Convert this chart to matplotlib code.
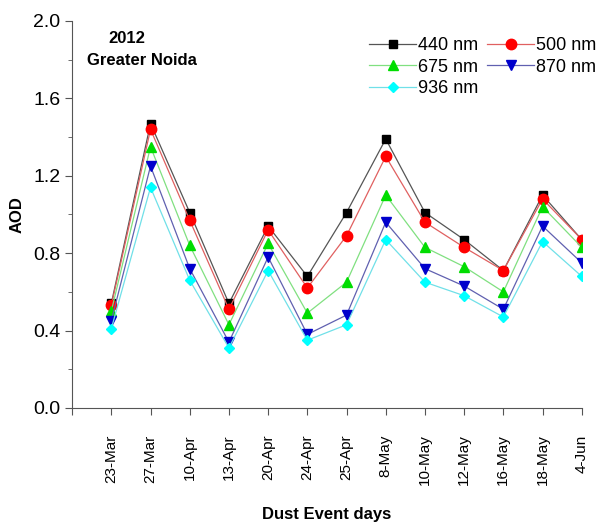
import matplotlib
matplotlib.use("Agg")
import matplotlib.pyplot as plt
from matplotlib.ticker import MultipleLocator, FixedLocator, FormatStrFormatter

plt.rcParams['font.family'] = ['Liberation Sans', 'DejaVu Sans']

dates = ["23-Mar", "27-Mar", "10-Apr", "13-Apr", "20-Apr", "24-Apr", "25-Apr",
         "8-May", "10-May", "12-May", "16-May", "18-May", "4-Jun"]
aod_440 = [0.54, 1.47, 1.01, 0.54, 0.94, 0.68, 1.01, 1.39, 1.01, 0.87, 0.71, 1.10, 0.87]
aod_500 = [0.53, 1.44, 0.97, 0.51, 0.92, 0.62, 0.89, 1.30, 0.96, 0.83, 0.71, 1.08, 0.87]
aod_675 = [0.50, 1.35, 0.84, 0.43, 0.85, 0.49, 0.65, 1.10, 0.83, 0.73, 0.60, 1.04, 0.83]
aod_870 = [0.45, 1.25, 0.72, 0.34, 0.78, 0.38, 0.48, 0.96, 0.72, 0.63, 0.51, 0.94, 0.75]
aod_936 = [0.41, 1.14, 0.66, 0.31, 0.71, 0.35, 0.43, 0.87, 0.65, 0.58, 0.47, 0.86, 0.68]

series = [
    ("440 nm", aod_440, "s", "black", "#555555", 6),
    ("500 nm", aod_500, "o", "red", "#e06060", 7.5),
    ("675 nm", aod_675, "^", "#00dd00", "#80e080", 7),
    ("870 nm", aod_870, "v", "#0000cc", "#6060b0", 7),
    ("936 nm", aod_936, "D", "cyan", "#70e0e8", 5.5),
]

fig = plt.figure(figsize=(6.06, 5.25), dpi=100)
ax = fig.add_axes([0.119, 0.223, 0.841, 0.737])

x = list(range(len(dates)))
handles = {}
for name, vals, mk, mc, lc, ms in series:
    h, = ax.plot(x, vals, color=lc, lw=0.9, marker=mk, markersize=ms,
                 markerfacecolor=mc, markeredgecolor=mc, label=name)
    handles[name] = h

ax.set_xlim(-1, 12)
ax.set_ylim(0, 2.0)
ax.xaxis.set_major_locator(FixedLocator(list(range(-1, 13))))
ax.set_xticklabels([""] + dates, rotation=90, fontsize=11)
ax.yaxis.set_major_locator(MultipleLocator(0.4))
ax.yaxis.set_minor_locator(MultipleLocator(0.2))
ax.yaxis.set_major_formatter(FormatStrFormatter("%.1f"))
ax.tick_params(axis='y', labelsize=14, direction='out', length=5, color='#555555')
ax.tick_params(axis='y', which='minor', length=3, color='#555555')
ax.tick_params(axis='x', direction='out', length=5, color='#555555', pad=14)

for s in ["top", "right"]:
    ax.spines[s].set_visible(False)
for s in ["left", "bottom"]:
    ax.spines[s].set_color('#555555')

ax.set_ylabel("AOD", fontsize=12, fontweight='bold', labelpad=6)
ax.set_xlabel("Dust Event days", fontsize=12, fontweight='bold', labelpad=16)

ax.text(0.108, 0.956, "2012", transform=ax.transAxes, ha='center',
        va='center', fontsize=12, fontweight='bold')
ax.text(0.137, 0.899, "Greater Noida", transform=ax.transAxes, ha='center',
        va='center', fontsize=12, fontweight='bold')

order = ["440 nm", "675 nm", "936 nm", "500 nm", "870 nm"]
ax.legend([handles[n] for n in order], order, loc='upper right', ncol=2,
          frameon=False, fontsize=13, handlelength=2.6, handletextpad=0.1,
          columnspacing=0.5, labelspacing=0.25, bbox_to_anchor=(1.06, 1.0))

fig.savefig("out.png", dpi=100)
